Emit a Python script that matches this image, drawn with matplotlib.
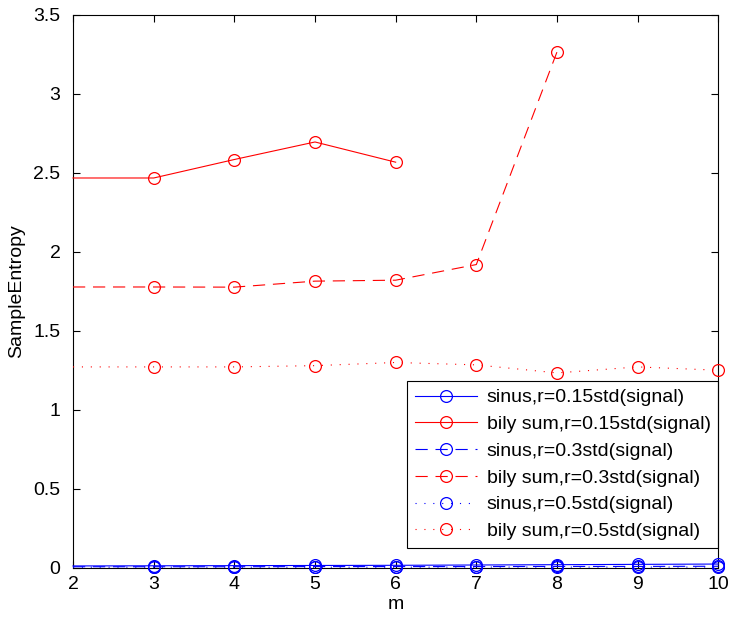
import matplotlib
matplotlib.use("Agg")
import matplotlib.pyplot as plt

plt.rcParams['font.family'] = ['Liberation Sans', 'DejaVu Sans']

m = [2, 3, 4, 5, 6, 7, 8, 9, 10]

sinus_015 = [0.012, 0.013, 0.014, 0.015, 0.016, 0.018, 0.020, 0.022, 0.024]
bily_015 = [2.468, 2.468, 2.585, 2.696, 2.568]
sinus_03 = [0.007, 0.007, 0.007, 0.008, 0.008, 0.008, 0.009, 0.009, 0.010]
bily_03 = [1.778, 1.778, 1.777, 1.815, 1.821, 1.920, 3.266]
sinus_05 = [0.004, 0.004, 0.004, 0.004, 0.004, 0.005, 0.005, 0.005, 0.005]
bily_05 = [1.272, 1.272, 1.272, 1.280, 1.300, 1.285, 1.234, 1.272, 1.251]

labels = ["sinus,r=0.15std(signal)", "bily sum,r=0.15std(signal)",
          "sinus,r=0.3std(signal)", "bily sum,r=0.3std(signal)",
          "sinus,r=0.5std(signal)", "bily sum,r=0.5std(signal)"]

fig = plt.figure(figsize=(7.3, 6.24), dpi=100)
ax = fig.add_axes([0.100, 0.090, 0.884, 0.886])

series = [
    (sinus_015, "-", "blue", labels[0]),
    (bily_015, "-", "red", labels[1]),
    (sinus_03, (0, (11, 7)), "blue", labels[2]),
    (bily_03, (0, (11, 7)), "red", labels[3]),
    (sinus_05, (0, (1, 7)), "blue", labels[4]),
    (bily_05, (0, (1, 7)), "red", labels[5]),
]
for vals, ls, col, lab in series:
    ax.plot(m[:len(vals)], vals, linestyle=ls, color=col, lw=0.8,
            marker="o", markersize=8.5, mfc="none", mew=0.9,
            markevery=slice(1, None), label=lab, clip_on=False, zorder=3)

ax.set_xlim(2, 10)
ax.set_ylim(0, 3.5)
ax.set_xticks(range(2, 11))
ax.set_yticks([0, 0.5, 1, 1.5, 2, 2.5, 3, 3.5])
ax.set_yticklabels(["0", "0.5", "1", "1.5", "2", "2.5", "3", "3.5"])
ax.tick_params(direction="in", top=True, right=True, labelsize=14, length=5)
ax.tick_params(axis="x", pad=6)
ax.tick_params(axis="y", pad=9)
ax.set_xlabel("m", fontsize=14, labelpad=2)
ax.set_ylabel("SampleEntropy", fontsize=14, labelpad=6)

leg = ax.legend(loc="lower right", bbox_to_anchor=(1.0, 0.036), borderaxespad=0,
                fontsize=14, fancybox=False, framealpha=1, edgecolor="black",
                handlelength=3.2, handletextpad=0.5, borderpad=0.4,
                labelspacing=0.47)
leg.get_frame().set_linewidth(0.8)
leg.set_zorder(2)

fig.savefig("out.png", dpi=100)
